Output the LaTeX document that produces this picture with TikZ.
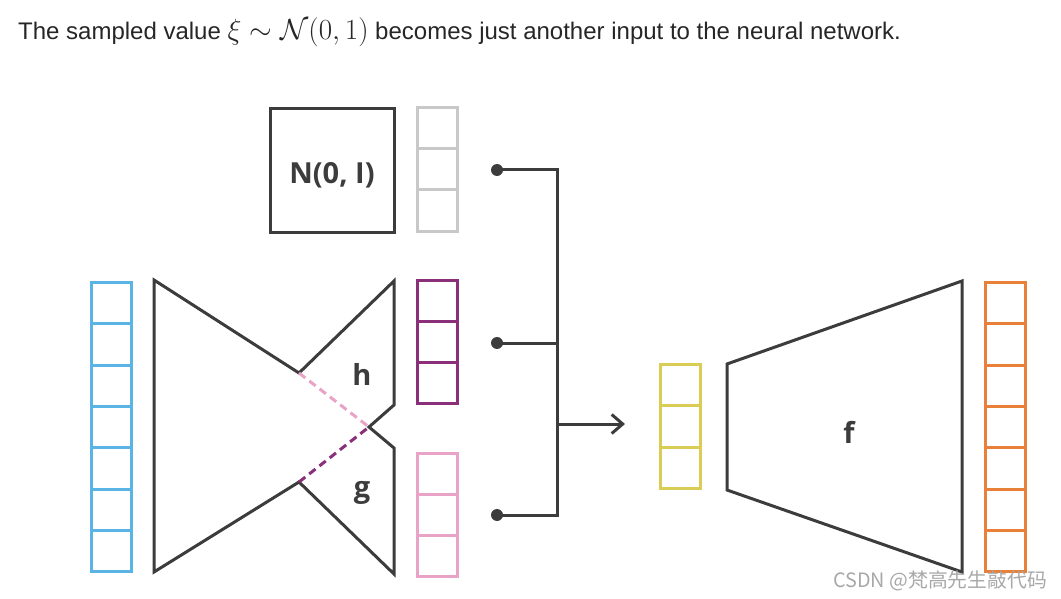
\documentclass[tikz,border=0pt]{standalone}
\usepackage{graphicx}
\usepackage[no-math]{fontspec}
\setmainfont{Liberation Sans}
\newfontfamily\labfont{Open Sans}
\newfontfamily\cjk{Noto Sans CJK SC}
\usetikzlibrary{arrows.meta}
\definecolor{dark}{HTML}{3C3C3C}
\definecolor{vgray}{HTML}{C8C8C8}
\definecolor{vblue}{HTML}{5AB4E5}
\definecolor{vpurple}{HTML}{8A2F7A}
\definecolor{vpink}{HTML}{E9A3C6}
\definecolor{vyellow}{HTML}{D9CD55}
\definecolor{vorange}{HTML}{E8803A}
\definecolor{wmark}{HTML}{A8A8A8}
% name, x, ytop, ndividers, cell height, total height, colour
\newcommand\vecstack[7]{%
  \node[vecbox, draw=#7, minimum height=#6pt] (#1) at (#2,#3) {};
  \foreach \k in {1,...,#4}{\draw[#7, line width=3pt] (#1.north west) ++(0,{\k*#5}) -- ++(40,0);}
}
\begin{document}
\begin{tikzpicture}[x=1pt,y=-1pt,
  vecbox/.style={rectangle, line width=3pt, minimum width=40pt, inner sep=0pt, outer sep=0pt, anchor=north west},
  net/.style={draw=dark, line width=3pt, line join=miter},
  conn/.style={draw=dark, line width=3pt},
  lab/.style={font=\labfont\bfseries\fontsize{29}{34}\selectfont, text=dark, anchor=base, inner sep=0pt},
  dot/.style={circle, fill=dark, inner sep=0pt, minimum size=12pt}]
\useasboundingbox (0,0) rectangle (1061,599);
% title
\node[anchor=base west, inner sep=0pt, font=\fontsize{24}{28}\selectfont, text=black!85] (title) at (18,40)
  {The sampled value \scalebox{1.17}{$\xi \sim \mathcal{N}(0, 1)$} becomes just another input to the neural network.};
% N(0,I) box
\node[draw=dark, line width=3pt, minimum width=124pt, minimum height=123pt, inner sep=0pt, outer sep=0pt] (noise) at (332,170.5) {};
\node[lab] (nlab) at (332,183) {N(0, I)};
% vectors
\vecstack{vg}{417.5}{108}{2}{41}{123}{vgray}
\vecstack{vp}{417.5}{280}{2}{41}{123}{vpurple}
\vecstack{vk}{417.5}{453.5}{2}{41}{123}{vpink}
\vecstack{vb}{91.5}{282.5}{6}{41.3}{289}{vblue}
\vecstack{vy}{660.5}{364.5}{2}{41.3}{124}{vyellow}
\vecstack{vo}{985}{282.5}{6}{41.3}{289}{vorange}
% encoder
\coordinate (e1) at (154,280);
\coordinate (e2) at (299,373);
\coordinate (e3) at (394,281);
\coordinate (e4) at (394,405);
\coordinate (e5) at (369,427);
\coordinate (e6) at (394,448);
\coordinate (e7) at (394,574);
\coordinate (e8) at (299,482);
\coordinate (e9) at (154,572);
\draw[net] (e1) -- (e2) -- (e3) -- (e4) -- (e5) -- (e6) -- (e7) -- (e8) -- (e9) -- cycle;
\draw[vpink, line width=3pt, dash pattern=on 8pt off 5pt] (e2) -- (e5);
\draw[vpurple, line width=3pt, dash pattern=on 8pt off 5pt] (e8) -- (e5);
\node[lab] (hlab) at (362,385) {h};
\node[lab] (glab) at (362,497) {g};
% decoder
\coordinate (f1) at (727,364);
\coordinate (f2) at (962,281);
\coordinate (f3) at (962,572);
\coordinate (f4) at (727,490);
\draw[net] (f1) -- (f2) -- (f3) -- (f4) -- cycle;
\node[lab] (flab) at (849,443) {f};
% connectors
\node[dot] (d1) at (497,170) {};
\node[dot] (d2) at (497,343) {};
\node[dot] (d3) at (497,515) {};
\coordinate (j1) at (557,170);
\coordinate (j2) at (557,343);
\coordinate (j3) at (557,515);
\coordinate (ja) at (557,424);
\coordinate (at) at (625,424);
\draw[conn, line join=miter] (d1.center) -- (j1) -- (j3) -- (d3.center);
\draw[conn] (d2.center) -- (j2);
\draw[conn, -{Straight Barb[length=11pt, width=19pt]}] (ja) -- (at);
% watermark
\node[anchor=base east, inner sep=0pt, text=wmark, font=\cjk\fontsize{19.8}{22}\selectfont] (wm) at (1047,587) {CSDN @梵高先生敲代码};
\end{tikzpicture}
\end{document}
